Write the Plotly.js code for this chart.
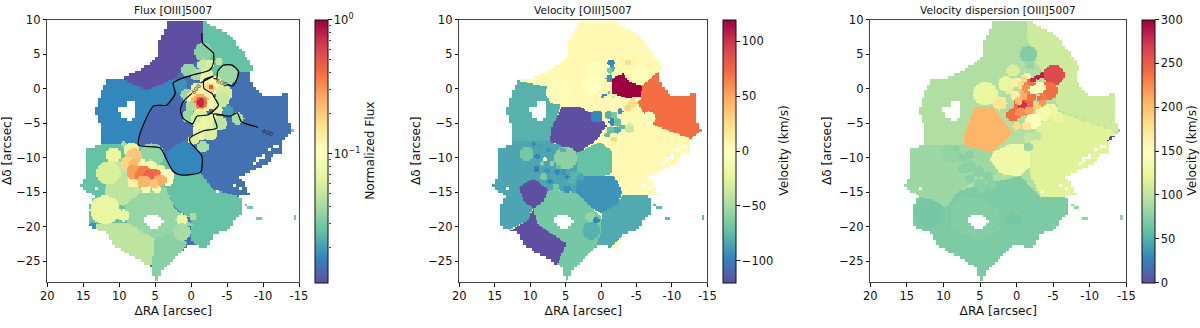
<!DOCTYPE html>
<html><head><meta charset="utf-8">
<script src="https://cdn.plot.ly/plotly-3.0.1.min.js"></script>
<style>html,body{margin:0;padding:0;background:#fff}#c{width:1200px;height:328px}#c .heatmaplayer image{filter:blur(.6px)}</style>
</head><body><div id="c"></div>
<script>
// ---------- shared map geometry (arcsec) ----------
const footprint=[[3.6,10],[-1.5,10],[-2.4,9.4],[-4,8.5],[-5,7.9],[-5.9,7.3],[-6.6,6],[-7.3,5.1],[-8.2,3.7],[-8.9,2.9],[-8,2.5],[-8.2,1.4],[-8.7,.5],[-9.4,-.6],[-10.1,-1.2],[-11.6,-1],[-13.3,-.7],[-13.5,-3.6],[-13.7,-6.5],[-12.6,-7.6],[-12.8,-9.1],[-11.5,-9.6],[-10.5,-10.8],[-8.7,-11.8],[-6.8,-12.7],[-7.6,-14],[-8.4,-15.6],[-6.8,-15.6],[-6.9,-18],[-5,-20.4],[-3.1,-21.1],[-2.5,-22.4],[-1.7,-23.1],[-.3,-22.4],[.6,-22.8],[2,-24.3],[3.4,-25.4],[4.3,-26.7],[4.8,-27.9],[5.7,-25.7],[8,-24.3],[9.4,-23.6],[10.6,-22.8],[11.7,-20.9],[14,-19.9],[14.3,-17],[13.4,-15.6],[15.4,-14.2],[14.5,-12.2],[14.7,-8.9],[12.4,-7.9],[12.7,-5.5],[13.4,-3.1],[12.6,-.8],[11.7,1.3],[10.1,1.3],[7.3,2.7],[6,3.5],[4.8,4.6],[4.5,6.8],[3.6,8.5]];
const holeWest=[[10.3,-2.8],[9.2,-2.6],[8.7,-1.6],[8,-1.6],[7.8,-3.6],[8.2,-4.8],[9.6,-4.1]];
const holeSouth=[[6.6,-18.8],[5.9,-18.2],[4.6,-18.3],[3.9,-19],[4.2,-19.9],[5.3,-20.2],[6.2,-19.7]];
const specks=[[13.2,-14.5],[-3.6,-14.9],[-9.1,-10.3],[-10.1,-9.8],[-8.7,-10.8],[-10.8,-8.8],[-11.8,-8.3],[-6.8,-12.7],[-7.7,-13],[-6.1,-14],[-6.8,-14.4],[-8,-14.6],[-9.4,-10.1]];
const strayPixels=[[-8.2,-17.3],[-9.4,-18.7],[-14.3,-18.6],[-14.1,-5.9],[-7.7,-16.9]];

// ---------- Flux ----------
const fluxBase=.0144;
const fluxCellShapes=[
 [[3.6,10],[-1.5,10],[-1.6,6.5],[-.6,5.3],[-.8,3.9],[1.3,2.7],[2.2,1.5],[6.2,-.2],[9.9,1.5],[11,3],[6,8]],
 [[-1.5,10],[-10,10],[-10,2.5],[-6.8,2.5],[-5.9,1.5],[-3.4,1],[-1.6,3],[-1.6,6.5]],
 [[16,3],[9.9,1.5],[6.2,-.2],[2.2,1.5],[2.6,-.8],[3.4,-2.4],[5.2,-2.5],[7.1,-6.5],[7.3,-8.2],[12,-8],[16,-6]],
 [[5.2,-2.5],[3.4,-2.4],[2,-1],[1,-4],[-.4,-5],[-1.7,-6],[.2,-7.4],[1.1,-7.5],[3.4,-9.1],[4.3,-8.6],[7.3,-8.2],[7.1,-6.5]],
 [[1.1,-7.5],[-1.3,-8.9],[-1.6,-10.3],[-1.3,-12.2],[1.5,-12.5],[3.2,-11],[3.4,-9.1]],
 [[16,-7.9],[12.4,-7.9],[9.4,-8],[7.3,-8.2],[4.3,-8.6],[3.4,-10.3],[2.6,-12],[1.5,-12.5],[3.6,-14.2],[3.4,-16],[7,-21],[11,-21],[16,-20]],
 [[3.6,-14.2],[1.5,-12.5],[-1.3,-12.2],[-3.1,-14.6],[-6.8,-15.6],[-8,-18],[-5,-22],[-1.7,-24],[-.1,-22],[.1,-18.8],[1.5,-17.8],[2.5,-16.8]],
 [[6.8,-14.8],[3.6,-14.2],[2.5,-17],[-.1,-19.7],[2.5,-20.7],[5.1,-21.7],[9,-19.3],[9.2,-17],[9,-15.6]],
 [[14,-19.6],[9,-19.3],[5.1,-21.7],[5.4,-25.3],[8,-26],[12,-24]],
 [[5.1,-21.7],[2.5,-20.7],[.6,-22.2],[2,-25],[4.3,-28],[6,-28],[5.4,-25.3]],
 [[11.6,-10.9],[8.5,-10],[7,-14.8],[7,-15],[9.5,-17],[12,-15.5]]
];
const fluxCellValues=[.011,.027,.0172,.0132,.0172,.027,.027,.037,.049,.034,.049];
const fluxBlobs=[
 [5.5,-9.6,1.7,.036],[-1.7,5.3,1.3,.034],[.4,2.7,1,.037],[-1.7,3.4,.9,.053],[-2.6,3.6,.6,.061],[-3.8,3.9,.5,.049],[-5,2,1.4,.039],[-.8,2,.9,.042],[-2.2,2,.9,.067],[-3.1,.5,1.4,.083],[-4.5,-.7,1.2,.059],[-2,1.2,.9,.083],[-2.6,.1,.8,.18],[-2.7,.3,.35,.51],
 [1.5,.4,1,.0188],[.6,-.9,.9,.039],[-.8,0,.9,.067],[-1.25,-1.6,1.9,.13],[-1.2,-1.9,1.2,.26],[-1.3,-2,.85,.42],[-1.3,-2,.55,.75],[.1,-2.6,.8,.042],[-3.1,-2.1,.9,.083],[-4.3,-1.6,1,.053],[-5.1,-3.2,.8,.0206],[.4,-4,.9,.039],[-1.3,-4.5,1.3,.061],[-2.6,-5,1.4,.073],[-4,-5,1,.049],[-6.4,-4.3,.9,.042],[-1.3,-6.2,1.2,.073],[-2.6,-6.5,1,.061],[-1.6,-8.4,.8,.042],[-.3,-7.4,.7,.061],[-3.6,-3.1,.7,.073],
 [1.3,-18.9,.8,.073],[-.2,-18.5,.5,.042],[1.3,-20.7,1.25,.042],[9.4,-18.3,.85,.073],[12,-17.5,2.1,.073],[13.7,-19.8,.5,.0188],[10.8,-9.6,1.1,.073],[11.5,-12.2,1.7,.061],[9.4,-8,.4,.042],[8.3,-8.9,1.1,.073],
 [7.1,-10.8,.8,.105],[5.7,-11.3,1,.083],[4.3,-11.8,.8,.073],[3.4,-12.5,1,.105],[3.2,-13.4,.7,.105],[6.3,-14.4,.65,.092],[4.8,-14.5,.6,.083],[8,-13.4,.9,.13],[8,-9.8,1.2,.207],[8.9,-10.8,1,.18],[8,-10.8,.7,.238],[8,-12,1.1,.285],[6.6,-12.2,1.1,.37],[5.2,-12.7,1.1,.405],[7.1,-12.5,.8,.37],[5.9,-12.5,.8,.445],[4.3,-13.2,.9,.26],[6.6,-13.4,.9,.238],[5.2,-13.7,.7,.207]
];
const fluxStray=.03;
const contourX=[-1.5,-1.6,-3.1,-3.1,-2.6,-.3,1.5,2.5,2.2,3.4,5.2,7.1,7.3,4.3,3.4,2.5,1.5,-1.3,-1.5,.1,.2,-1.7,-3.6,-3.1,-5.4,-6.4,-7,-9.3,null,
 -3.1,-1.3,null,-.1,1.1,1.5,1.1,-.2,-.8,-2.4,-3.8,-3.3,-2.9,-1.8,-1.8,-3.1,null,
 -3.1,-3.6,null,-5,-5.8,-6.4,-6.6,-5.7,-4.5,-3.7,-3.6];
const contourY=[8,6.6,5.1,3.7,2.7,2,1.4,.8,-.7,-2.4,-2.5,-6.5,-8.2,-8.6,-10.3,-12,-12.5,-12.1,-9.8,-7.8,-7.2,-6.1,-5.7,-3.7,-4,-3.5,-4.8,-5.6,null,
 1.8,.8,null,-.7,-1.9,-3.1,-4.3,-5.1,-4,-3.8,-2.4,-1.4,-.7,0,1.25,1.8,null,
 1.5,1.35,null,.6,.4,1.5,2.5,3.4,3.4,2.5,1.35];
const contourLabels=["600","600","400"];
const contourLabelX=[-.7,-4.3,-10.7];
const contourLabelY=[0,.9,-6.3];
const contourLabelAngle=[-50,22,22];

// ---------- Velocity ----------
const velBase=5;
const velCellShapes=[
 [[16,3],[11.9,1.2],[6.2,0],[5.8,-2.6],[7.2,-7.6],[16,-7.6]],
 [[5.5,-2.6],[2.9,-2.6],[-.4,-4.7],[-.85,-5.3],[.6,-7.4],[3.2,-9.3],[7.2,-7.6],[6.9,-5.5]],
 [[16,-7.6],[7.2,-7.6],[3.4,-9.3],[3.4,-15],[7.4,-14.5],[9.5,-17.3],[16,-20]],
 [[.1,-7.7],[-1.6,-9.1],[-1.6,-12.2],[.6,-12.9],[3.4,-12.7],[3.4,-9.3]],
 [[9.5,-13],[7.4,-14.6],[8.1,-16.3],[9.5,-17.3],[10.9,-16.3],[11.6,-14.2]],
 [[.8,-12.6],[-1.8,-12.5],[-3,-14.9],[-2.3,-17],[-.4,-18.2],[1.3,-17.2],[3.6,-15.1],[3.4,-12.7]],
 [[7.4,-14.5],[3.4,-15.1],[.1,-18.5],[-.2,-21],[.6,-22.6],[2.9,-25.2],[5.3,-28.5],[6.4,-25.9],[4.9,-22.4],[9,-19.5],[9.5,-17.3],[8.1,-16.3]],
 [[9.5,-17.3],[9,-19.5],[4.9,-22.4],[6.4,-25.9],[8,-26],[15,-22],[12.3,-20.2],[10.2,-19],[10.2,-18.5]],
 [[14,-15.6],[11.4,-15.6],[9.8,-17.3],[10.2,-19],[12.3,-20],[15,-21.5],[16,-18]],
 [[-.2,-17.8],[-2.3,-16.8],[-3,-15.4],[-8,-15.4],[-8,-18],[-4.6,-21],[-2.7,-21.5],[-.85,-23.5],[.8,-23],[.1,-21]],
 [[-8.4,2.7],[-5.8,.5],[-5.6,-1.4],[-5.2,-1.9],[-6.7,-5],[-12.6,-7.2],[-14,-6.3],[-14,-.3],[-10.7,-1],[-9.5,-.8],[-9,1.2]],
 [[-1.5,1.5],[-3.2,2.2],[-3.7,1.2],[-5.8,.4],[-5.6,-1.1],[-3.7,-1.4],[-1.5,-.7]]
];
const velCellValues=[-79,-120,-84,-72,-120,-91,-67,-120,-84,-82,72,120];
const velBlobs=[
 [.6,2.6,1.4,-4],[1.3,.5,1.4,0],[-5.6,2.2,1.2,-1],[6,-.5,1.8,3],[-1.4,3.7,.5,-96],[-1.3,2.6,.5,-67],[-1.2,1.5,.5,-91],[-1.7,3,.35,-84],[-3.8,3.8,.5,24],[-4.5,-2.1,.7,24],[-3.7,-2.8,.5,29],[-4.9,-4.3,1.2,-8],[-6.7,-4.3,1,0],[.6,-4,.9,-96],[-4,-5.7,.65,-36],[-1.8,-7.3,.4,29],[-13.3,-7.9,.6,-30],
 [-1.1,-3.8,.55,-79],[-1.8,-3.8,.5,-67],[-2.7,-3.3,.4,-91],[-1.6,-4.8,.55,-96],[-2.3,-4.8,.55,-72],[-3,-5.5,.4,-76],[-1.3,-6,.5,-72],[-2.3,-6,.5,-82],[-.85,-6.7,.4,-72],[-.15,-1.2,.2,-84],[-1.1,-.6,.2,-72],[-1.8,-1.2,.2,-36],[-.5,-.9,.2,-96],
 [5,-10,1.6,-58],[10.5,-9.4,1,-67],[1.4,-20.5,1.25,-79],[1.5,-18.5,.7,-55],[.7,-19,.45,-96],[5.4,-8.9,.4,-79],
 [9.5,-8,.35,-96],[8.6,-8.4,.4,-86],[7.4,-8.9,.4,-91],[9,-9.8,.4,-96],[8.3,-10.8,.35,-60],[7.9,-10.2,.3,-12],[7.6,-11.8,.35,-91],[9.1,-11.6,.4,-101],[6.2,-12,.35,-96],[5.3,-12,.4,-91],[4.8,-12.7,.35,-101],[7.2,-13.4,.4,-96],[6.4,-14.2,.5,-67],[4.8,-14.5,.6,-91],[5.7,-13.2,.35,-86],[3.9,-12.5,.5,-77],[2.9,-12.7,.5,-84],[4.1,-13.4,.45,-79],[6,-11.3,.4,-72],[6.9,-10.8,.4,-60],[8.1,-12.7,.45,-65]
];
const velStray=-75;

// ---------- Velocity dispersion ----------
const dispBase=93;
const dispCellShapes=[
 [[-1.4,10],[-1.4,7.5],[-2.5,4.1],[-5,.3],[-5.7,-3.1],[-13.4,-6.2],[-16,-6.2],[-16,11],[-1.4,11]],
 [[-3.2,-5],[-5.7,-3.3],[-13.4,-6.2],[-16,-9],[-16,-15.6],[-6.8,-15.6],[-3.2,-15.6],[-1.8,-12.2],[-1.8,-8]],
 [[-.5,-12.6],[-3.2,-15.6],[-9,-15.6],[-9,-29],[21,-29],[21,-15],[9,-15]],
 [[16,-8],[3.4,-8.4],[3.6,-10.7],[2.3,-12.2],[4.7,-12.7],[8.2,-15],[9.6,-17.2],[13,-15.6],[16,-15]],
 [[9.1,-17.2],[7.7,-15.6],[4.1,-16.1],[2.1,-18],[2.3,-20.4],[5,-22.1],[9.1,-20]],
 [[5.7,-2.6],[3.2,-2.6],[.5,-6.5],[3.4,-9.3],[7.3,-8.1],[7.1,-6.3]],
 [[.5,-7.9],[-1.8,-8],[-1.8,-11.3],[-.5,-12.7],[2.3,-12.2],[3.6,-10.3],[3.2,-9.1]]
];
const dispCellValues=[108,117,70,84,73,205,132];
const dispBlobs=[
 [4.3,-.7,1.7,126],[-1.6,5,1.2,72],[-1.8,3.4,.6,81],[.5,2.6,.9,114],[1.4,.7,1.1,126],[0,.9,.7,165],[2.3,-2.1,1,174],[-1.4,1.6,.7,150],
 [-5.7,-4.2,.8,126],[-4.6,-3.1,1,129],[-3.6,-3.6,1.1,135],[-2.3,-4.7,1.1,150],[-1.4,-5.4,.7,174],[0,-5.4,.55,180],[-2.7,-6.8,.7,99],[-1.6,-7.1,.7,102],[-1.6,-8.4,.7,84],
 [-5.1,2,1.45,262],[-4.3,-.3,1.3,240],[.5,-3.8,.9,240],[-.9,-2.4,1.4,245],[-.8,-2.4,.7,275],[-1.8,.7,.7,240],[0.2,-1,.6,165],[1,-.3,.5,170],[-.5,.5,.5,180],[-1,1.4,.5,185],[-1,-1,.6,210],[-.3,-1.8,.6,200],[-.5,-3.4,.7,225],[-1.7,-3.1,.6,215],[-2.7,-2.5,.5,190],[-3.5,-2,.5,220],[-3.6,-1.2,.5,235],[-1.4,.05,.7,225],[-2,-1.2,.6,240],[-3.1,-1.4,.4,240],[-2.2,1.3,.4,280],[-2.9,1.7,.4,285],[-3.5,1.95,.35,285],[-3.2,.2,.8,150],[-2.3,-.2,.65,150],
 [8.9,-9.4,1.3,79],[7.4,-10,.7,76],[6.4,-9.6,.7,76],[8.2,-8.6,.4,76],[6.4,-11.2,.8,76],[5.1,-12,.8,76],[3.9,-12.7,.7,76],[5,-13.8,.8,76],[3.4,-13.9,.7,76],[4.8,-14.5,.6,76],[6.4,-13,.7,76],[7.3,-11.6,.7,76],
 [.7,-18.8,.75,66],[-.1,-18.9,.7,66],[12,-18,2,67]
];
const dispPatch=[[-13.2,-7.5,.7,0]];
const dispPatchHole=[[-13.2,-7.6]];
const dispStray=80;

// ---------- ticks / colormap ----------
const xTickVals=[20,15,10,5,0,-5,-10,-15];
const xTickText=["20","15","10","5","0","-5","-10","-15"];
const yTickVals=[10,5,0,-5,-10,-15,-20,-25];
const spectralR=["#5e4fa2","#3288bd","#66c2a5","#abdda4","#e6f598","#ffffbf","#fee08b","#fdae61","#f46d43","#d53e4f","#9e0142"];
const fluxMajorTicks=[0,-1];
const fluxMajorText=["10<sup>0</sup>","10<sup>\u22121</sup>"];
const fluxMinorValues=[.9,.8,.7,.6,.5,.4,.3,.2,.09,.08,.07,.06,.05,.04,.03,.02];
const velTicks=[-100,-50,0,50,100];
const dispTicks=[0,50,100,150,200,250,300];
const cbarTitles=["Normalized Flux","Velocity (km/s)","Velocity (km/s)"];
const cbarTitleX=[370,784,1192];

// ---------- raster through the heatmap ----------
const STEP=.2, gx=[], gy=[];
for(let x=-15+STEP/2;x<20;x+=STEP)gx.push(+x.toFixed(2));
for(let y=-28+STEP/2;y<10;y+=STEP)gy.push(+y.toFixed(2));
function inPoly(p,x,y){let c=false;for(let i=0,j=p.length-1;i<p.length;j=i++){const a=p[i],b=p[j];
 if((a[1]>y)!==(b[1]>y)&&x<(b[0]-a[0])*(y-a[1])/(b[1]-a[1])+a[0])c=!c;}return c;}
const snap=v=>Math.round(v/.4)*.4;
const mask=gy.map(y=>gx.map(x=>{const sx=snap(x),sy=snap(y);
 if(strayPixels.some(p=>Math.abs(p[0]-sx)<.25&&Math.abs(p[1]-sy)<.25))return 2;
 if(!inPoly(footprint,sx,sy)||inPoly(holeWest,sx,sy)||inPoly(holeSouth,sx,sy))return 0;
 if(specks.some(p=>Math.abs(p[0]-sx)<.25&&Math.abs(p[1]-sy)<.25))return 0;
 return 1;}));
function raster(base,shapes,vals,blobs,stray,f){
 return gy.map((y,j)=>gx.map((x,i)=>{const m=mask[j][i];if(!m)return null;if(m===2)return f(stray);
  let v=base;
  shapes.forEach((s,k)=>{if(inPoly(s,x,y))v=vals[k];});
  blobs.forEach(b=>{const dx=x-b[0],dy=y-b[1];if(dx*dx+dy*dy<=b[2]*b[2])v=b[3];});
  return f(v);}));
}
const cs=spectralR.map((c,i)=>[i/10,c]);
const W=1200,H=328,T=19.5,B=282;
const panels=[{l:47.3,r:299,c:315},{l:459.3,r:707.3,c:722.7},{l:870.3,r:1126.3,c:1142.3}];
const INK="#111";
const font={family:"DejaVu Sans, sans-serif",size:11.5,color:INK};
const cbar=(i,extra)=>Object.assign({x:panels[i].c/W,xref:"paper",xanchor:"left",y:1-T/H,yanchor:"top",len:(B-T)/H,lenmode:"fraction",
 thickness:12.6,thicknessmode:"pixels",outlinewidth:1,outlinecolor:INK,ticks:"outside",ticklen:3.5,tickwidth:1,tickcolor:INK,xpad:0,ypad:0,
 tickfont:{family:font.family,size:11.5,color:INK}},extra);
const hm=(z,i,zmin,zmax,cb)=>({type:"heatmap",x:gx,y:gy,z,xaxis:"x"+(i+1),yaxis:"y"+(i+1),colorscale:cs,zmin,zmax,colorbar:cb,hoverongaps:false,hoverinfo:"skip"});
const dispZ=raster(dispBase,dispCellShapes,dispCellValues,dispBlobs.concat(dispPatch),dispStray,v=>v);
gy.forEach((y,j)=>gx.forEach((x,i)=>{if(dispPatchHole.some(p=>Math.abs(p[0]-x)<.25&&Math.abs(p[1]-y)<.25))dispZ[j][i]=null;}));
const traces=[
 hm(raster(fluxBase,fluxCellShapes,fluxCellValues,fluxBlobs,fluxStray,Math.log10),0,-1.96,0,cbar(0,{tickmode:"array",tickvals:fluxMajorTicks,ticktext:fluxMajorText})),
 hm(raster(velBase,velCellShapes,velCellValues,velBlobs,velStray,v=>v),1,-120,120,cbar(1,{tickmode:"array",tickvals:velTicks,ticktext:velTicks.map(v=>v<0?"\u2212"+(-v):""+v)})),
 hm(dispZ,2,0,300,cbar(2,{tickmode:"array",tickvals:dispTicks})),
 {type:"scatter",mode:"lines",x:contourX,y:contourY,line:{color:"#000",width:1.2,shape:"spline",smoothing:.6},connectgaps:false,xaxis:"x",yaxis:"y",hoverinfo:"skip",showlegend:false},
 {type:"scatter",mode:"markers",x:[0],y:[-1],marker:{opacity:0},xaxis:"x4",yaxis:"y4",hoverinfo:"skip",showlegend:false}
];
const titles=["Flux [OIII]5007","Velocity [OIII]5007","Velocity dispersion [OIII]5007"];
const layout={width:W,height:H,autosize:false,margin:{l:0,r:0,t:0,b:0,autoexpand:false},paper_bgcolor:"#fff",plot_bgcolor:"#fff",font,showlegend:false,annotations:[],
 xaxis4:{domain:[panels[0].c/W,(panels[0].c+12.6)/W],range:[0,1],visible:false,anchor:"y4"},
 yaxis4:{domain:[1-B/H,1-T/H],range:[-1.96,0],anchor:"free",position:(panels[0].c+12.6)/W,overlaying:false,side:"right",showgrid:false,zeroline:false,showline:false,
  showticklabels:false,ticks:"outside",ticklen:2,tickwidth:.8,tickcolor:INK,tickmode:"array",tickvals:fluxMinorValues.map(Math.log10)}};
panels.forEach((p,i)=>{const n=i+1;
 layout["xaxis"+n]={domain:[p.l/W,p.r/W],range:[20,-15],anchor:"y"+n,tickmode:"array",tickvals:xTickVals,ticktext:xTickText,ticks:"outside",ticklen:3.5,tickwidth:1,tickcolor:INK,
  showline:true,mirror:true,linecolor:"#444",linewidth:1,showgrid:false,zeroline:false,tickfont:{size:11.5,color:INK},title:{text:"\u0394RA [arcsec]",font:{size:12.2,color:INK},standoff:4}};
 layout["yaxis"+n]={domain:[1-B/H,1-T/H],range:[-28,10],anchor:"x"+n,tickmode:"array",tickvals:yTickVals,ticks:"outside",ticklen:3.5,tickwidth:1,tickcolor:INK,
  showline:true,mirror:true,linecolor:"#444",linewidth:1,showgrid:false,zeroline:false,tickfont:{size:11.5,color:INK},title:{text:"\u0394\u03b4 [arcsec]",font:{size:12.2,color:INK},standoff:4}};
 layout.annotations.push({text:titles[i],xref:"paper",yref:"paper",x:(p.l+p.r)/2/W,y:1-10/H,xanchor:"center",yanchor:"middle",showarrow:false,font:{size:10.6,color:INK}});
 layout.annotations.push({text:cbarTitles[i],xref:"paper",yref:"paper",x:cbarTitleX[i]/W,y:1-(T+B)/2/H,xanchor:"center",yanchor:"middle",textangle:-90,showarrow:false,font:{size:12.2,color:INK}});
});
contourLabels.forEach((t,i)=>layout.annotations.push({text:t,x:contourLabelX[i],y:contourLabelY[i],xref:"x",yref:"y",showarrow:false,textangle:contourLabelAngle[i],font:{size:6,color:"#222"}}));
Plotly.newPlot("c",traces,layout,{displayModeBar:false,staticPlot:true});
</script></body></html>
